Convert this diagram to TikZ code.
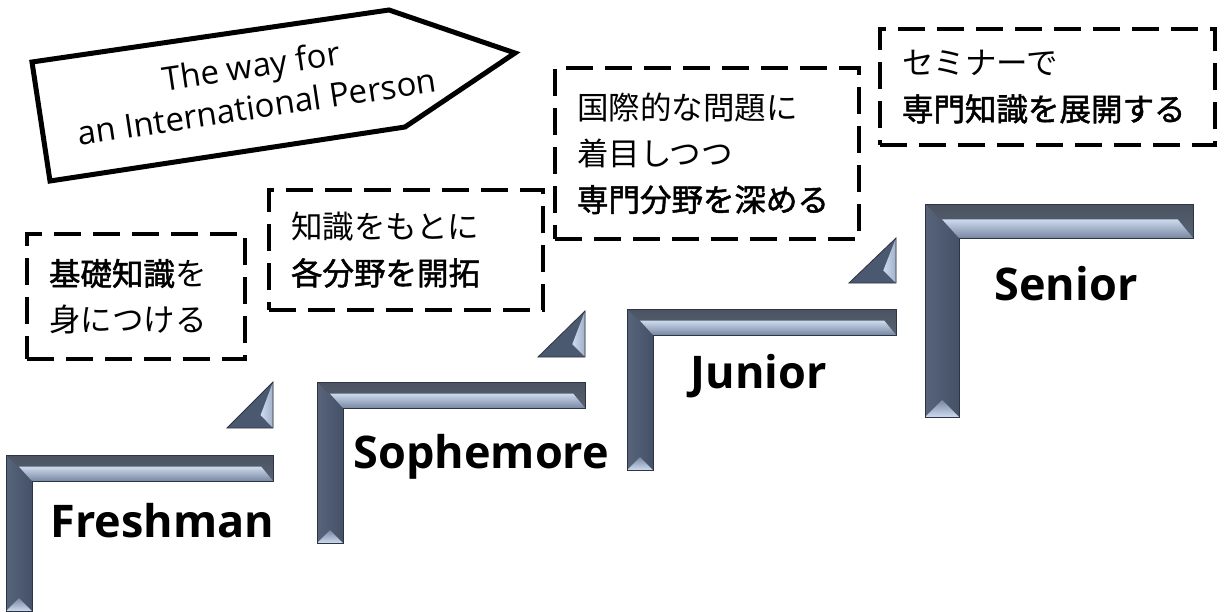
\documentclass[tikz,border=0pt]{standalone}
\usepackage{fontspec}
\setmainfont{Open Sans}
\newfontfamily\jpfont{Noto Sans CJK JP}[BoldFont={Noto Sans CJK JP}, BoldFeatures={FakeBold=1.6}]
\definecolor{stepdark}{RGB}{74,88,112}
\definecolor{stepgray}{RGB}{88,98,114}
\definecolor{steplight}{RGB}{205,218,238}
\definecolor{stepmid}{RGB}{120,136,162}
\tikzset{
  memo/.style={draw, line width=4pt, dash pattern=on 27pt off 12pt, anchor=north west,
    align=left, inner xsep=22pt, font=\jpfont\fontsize{31.5}{46}\selectfont},
  yearlabel/.style={anchor=base west, font=\fontsize{45}{54}\selectfont\bfseries},
  signline/.style={line width=5pt, line join=miter},
}
\begin{document}
\begin{tikzpicture}[x=1pt,y=-1pt]
    \useasboundingbox (0,0) rectangle (1224,611);

    % the four steps: left, top, right, thickness, foot
    \foreach \xa/\ya/\xb/\t/\yb in {6/455/273/26/611, 317/382/585/26/543, 627/309/896/26/470, 925/204/1193/34/417}{
        % dark body of the step
        \fill[stepdark] (\xa,\ya) -- (\xb,\ya) -- (\xb,\ya+\t) -- (\xa+\t,\ya+\t) -- (\xa+\t,\yb) -- (\xa,\yb) -- cycle;
        % top bar and side bar
        \shade[top color=stepgray!85!black, bottom color=stepgray] (\xa,\ya) -- (\xb,\ya) -- (\xb,\ya+\t) -- (\xa+\t,\ya+\t) -- cycle;
        \shade[left color=stepdark!93!white, right color=stepdark!92!black] (\xa,\ya) -- (\xa+\t,\ya+\t) -- (\xa+\t,\yb) -- (\xa,\yb) -- cycle;
        % light bevel under the top bar
        \shade[top color=steplight, bottom color=stepmid] (\xa+0.5*\t,\ya+0.45*\t) -- (\xb-0.45*\t,\ya+0.45*\t) -- (\xb,\ya+\t) -- (\xa+\t,\ya+\t) -- cycle;
        % bevel at the foot
        \shade[top color=stepmid, bottom color=steplight] (\xa,\yb) -- (\xa+0.5*\t,\yb-0.5*\t) -- (\xa+\t,\yb) -- cycle;
        % outline
        \draw[stepdark!60!black, line width=0.8pt] (\xa,\ya) -- (\xb,\ya) -- (\xb,\ya+\t) -- (\xa+\t,\ya+\t) -- (\xa+\t,\yb) -- (\xa,\yb) -- cycle;
    }

    % small triangles between the steps
    \foreach \xa/\xb/\ya/\yb in {227/273/382/428, 538/585/311/357, 849/896/238/283}{
        \fill[stepdark] (\xa,\yb) -- (\xb,\yb) -- (\xb,\ya) -- cycle;
        \shade[left color=steplight, right color=stepmid!50!steplight] (\xb,\ya) -- ({\xb-0.27*(\xb-\xa)},{\yb-0.28*(\yb-\ya)}) -- (\xb,\yb) -- cycle;
        \draw[stepdark!60!black, line width=0.8pt] (\xa,\yb) -- (\xb,\yb) -- (\xb,\ya) -- cycle;
    }

    % year labels
    \node[yearlabel] (fresh) at (47,537) {Freshman};
    \node[yearlabel] (soph) at (350,468) {Sophemore};
    \node[yearlabel] (junior) at (687,388) {Junior};
    \node[yearlabel] (senior) at (991,300) {Senior};

    % dashed memo boxes
    \node[memo, text width=174pt, minimum height=125pt] (basic) at (25,232) {{\bfseries 基礎知識}を\\身につける};
    \node[memo, text width=230pt, minimum height=120pt] (field) at (267,188) {知識をもとに\\{\bfseries 各分野を開拓}};
    \node[memo, text width=260pt, minimum height=171pt] (global) at (553,66) {国際的な問題に\\着目しつつ\\{\bfseries 専門分野を深める}};
    \node[memo, text width=291pt, minimum height=116pt] (seminar) at (878,27) {セミナーで\\{\bfseries 専門知識を展開する}};

    % the sign
    \draw[signline] (32,62) -- (389,10) -- (515,53) -- (405,127) -- (50,181) -- cycle;
    \node[rotate=8.5, align=center, font=\fontsize{33}{41}\selectfont] (motto) at (254,86) {The way for\\an International Person};
\end{tikzpicture}
\end{document}
